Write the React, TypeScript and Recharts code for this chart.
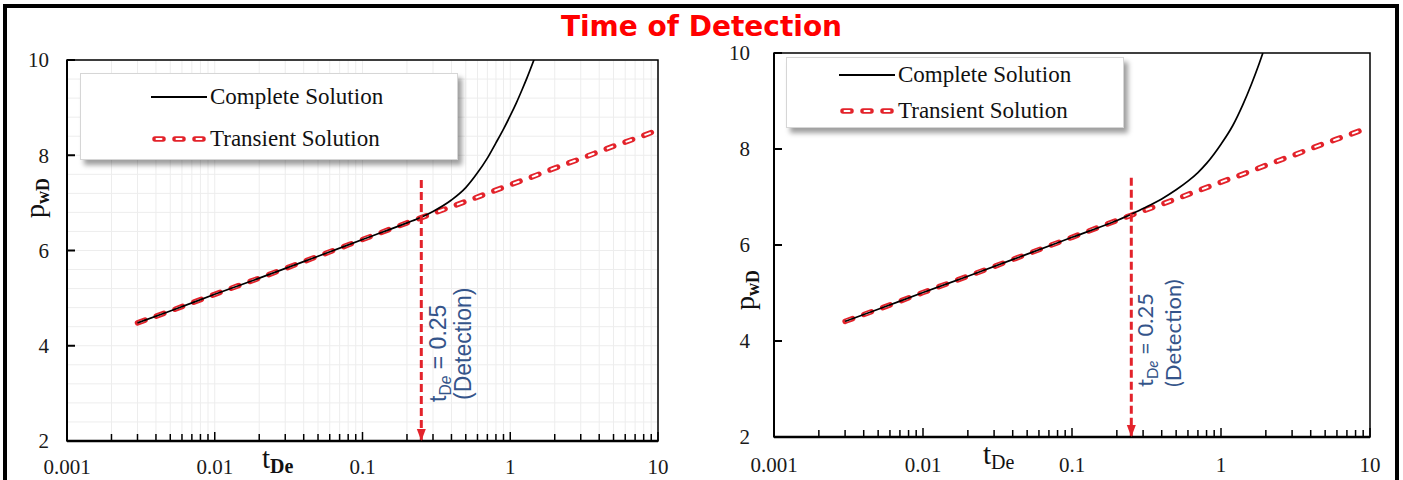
import React from 'react';
import { LineChart, Line, XAxis, YAxis, CartesianGrid, ReferenceArea, Legend } from 'recharts';

// log-axis ticks: decades get labels, the 2..9 steps are bare marks
const decadeTicks = [0.001, 0.01, 0.1, 1, 10];
const minorSteps = [1, 2, 3, 4, 5, 6, 7, 8, 9];
const xTicks = decadeTicks.flatMap((d, i) =>
  i === decadeTicks.length - 1 ? [d] : minorSteps.map((m) => Number((d * m).toPrecision(3)))
);
const yLabelTicks = [2, 4, 6, 8, 10];
const yTicks = Array.from({ length: 21 }, (_, i) => Math.round((2 + i * 0.4) * 10) / 10);

const seriesNames = ['Complete Solution', 'Transient Solution'];
const detectionTime = 0.25;

// left panel
const tTransientA = [0.003, 0.005, 0.01, 0.02, 0.05, 0.1, 0.2, 0.25, 0.3, 0.4, 0.5, 0.7, 1, 1.5, 2, 3, 5, 7, 10];
const pTransientA = [4.48, 4.73, 5.08, 5.42, 5.88, 6.23, 6.58, 6.69, 6.78, 6.92, 7.03, 7.2, 7.38, 7.58, 7.73, 7.93, 8.19, 8.35, 8.53];
const tCompleteA = [0.003, 0.005, 0.01, 0.02, 0.05, 0.1, 0.2, 0.25, 0.3, 0.4, 0.5, 0.6, 0.7, 0.8, 0.9, 1, 1.1, 1.2, 1.3, 1.47];
const pCompleteA = [4.48, 4.73, 5.08, 5.42, 5.88, 6.23, 6.58, 6.7, 6.82, 7.06, 7.32, 7.63, 7.94, 8.26, 8.55, 8.83, 9.1, 9.37, 9.63, 10.06];
const pDetectionA = [7.48, 2];

// right panel
const tTransientB = [0.003, 0.005, 0.01, 0.02, 0.05, 0.1, 0.2, 0.25, 0.3, 0.4, 0.5, 0.7, 1, 1.5, 2, 3, 5, 7, 10];
const pTransientB = [4.41, 4.66, 5.01, 5.35, 5.81, 6.16, 6.51, 6.62, 6.71, 6.85, 6.96, 7.13, 7.31, 7.51, 7.66, 7.86, 8.12, 8.28, 8.46];
const tCompleteB = [0.003, 0.005, 0.01, 0.02, 0.05, 0.1, 0.2, 0.25, 0.3, 0.4, 0.5, 0.6, 0.7, 0.8, 1, 1.2, 1.4, 1.6, 1.8, 1.91];
const pCompleteB = [4.41, 4.66, 5.01, 5.35, 5.81, 6.16, 6.51, 6.64, 6.76, 6.96, 7.15, 7.33, 7.51, 7.7, 8.1, 8.49, 8.92, 9.35, 9.77, 10.0];
const pDetectionB = [7.4, 2];

const RED = '#e3232b';
const NOTE_BLUE = '#34548a';
const SERIF = '"Liberation Serif", "Times New Roman", serif';

const zip = (t: number[], p: number[]) => t.map((v, i) => ({ t: v, p: p[i] }));

type PanelStyle = {
  width: number;
  margin: { top: number; right: number; bottom: number; left: number };
  grid: boolean;
  yGap: number;
  xLabelDy: number;
  legend: { left: number; top: number; w: number; h: number; iconX: number; rows: number[] };
  yTitle: { dx: number; dy: number };
  xTitle: { dx: number; bold: boolean };
  note: { font: string; size: number; dx1: number; dx2: number; up1: number; up2: number };
};

const HollowDash = ({ width }: { width: number }) => (
  <svg width={width} height={10} style={{ display: 'block' }}>
    <line x1={4} x2={width - 3} y1={5} y2={5} stroke={RED} strokeWidth={5.5} strokeLinecap="round" strokeDasharray="8 12" />
    <line x1={4} x2={width - 3} y1={5} y2={5} stroke="#fff" strokeWidth={2} strokeLinecap="round" strokeDasharray="5 15" strokeDashoffset={-1.5} />
  </svg>
);

const LegendBox = ({ cfg }: { cfg: PanelStyle['legend'] }) => (
  <div
    style={{
      position: 'relative',
      width: cfg.w,
      height: cfg.h,
      boxSizing: 'border-box',
      background: '#fff',
      border: '1px solid #d6d6d6',
      boxShadow: '4px 5px 5px rgba(0,0,0,0.38)',
      fontFamily: SERIF,
      fontSize: 23,
      color: '#111',
    }}
  >
    {seriesNames.map((name, i) => (
      <div
        key={name}
        style={{ position: 'absolute', left: cfg.iconX, top: cfg.rows[i] - 14, height: 28, display: 'flex', alignItems: 'center', whiteSpace: 'nowrap' }}
      >
        {i === 0 ? (
          <svg width={56} height={10} style={{ display: 'block' }}>
            <line x1={0} x2={56} y1={5} y2={5} stroke="#000" strokeWidth={1.8} />
          </svg>
        ) : (
          <HollowDash width={56} />
        )}
        <span style={{ marginLeft: 3 }}>{name}</span>
      </div>
    ))}
  </div>
);

function DetectionPanel({
  cfg,
  transient,
  complete,
  detection,
}: {
  cfg: PanelStyle;
  transient: { t: number; p: number }[];
  complete: { t: number; p: number }[];
  detection: { t: number; p: number }[];
}) {
  const xTick = (props: any) => {
    const { x, y, payload } = props;
    const v = payload.value;
    const major = decadeTicks.includes(v);
    return (
      <g>
        <line x1={x} x2={x} y1={y} y2={y - (major ? 9 : 7)} stroke="#000" strokeWidth={1.5} />
        {major && (
          <text x={x} y={y + cfg.xLabelDy} textAnchor="middle" fontFamily={SERIF} fontSize={21} fill="#1a1a1a">
            {String(v)}
          </text>
        )}
      </g>
    );
  };

  const yTick = (props: any) => {
    const { x, y, payload } = props;
    const v = payload.value;
    if (!yLabelTicks.includes(v)) return <g />;
    return (
      <g>
        <line x1={x} x2={x + 8} y1={y} y2={y} stroke="#000" strokeWidth={2} />
        <text x={x - cfg.yGap} y={y} dy="0.35em" textAnchor="end" fontFamily={SERIF} fontSize={21} fill="#1a1a1a">
          {v}
        </text>
      </g>
    );
  };

  // arrowhead at the axis plus the rotated note beside the marker
  const detectionDot = (props: any) => {
    const { cx, cy, index } = props;
    if (index !== 1) return <g key={`d${index}`} />;
    const n = cfg.note;
    return (
      <g key={`d${index}`}>
        <polygon points={`${cx},${cy} ${cx - 4.5},${cy - 12} ${cx + 4.5},${cy - 12}`} fill={RED} />
        <text
          transform={`translate(${cx + n.dx1}, ${cy - n.up1}) rotate(-90)`}
          fontFamily={n.font}
          fontSize={n.size}
          fill={NOTE_BLUE}
        >
          t
          <tspan dy={5} fontSize={n.size * 0.68}>
            D<tspan fontStyle="italic">e</tspan>
          </tspan>
          <tspan dy={-5}> = {detectionTime}</tspan>
        </text>
        <text
          transform={`translate(${cx + n.dx2}, ${cy - n.up2}) rotate(-90)`}
          fontFamily={n.font}
          fontSize={n.size}
          fill={NOTE_BLUE}
        >
          (Detection)
        </text>
      </g>
    );
  };

  const yTitle = (props: any) => {
    const vb = props.viewBox;
    const x = vb.x + cfg.yTitle.dx;
    const y = vb.y + cfg.yTitle.dy;
    return (
      <text transform={`translate(${x}, ${y}) rotate(-90)`} textAnchor="middle" fontFamily={SERIF} fill="#111">
        <tspan fontSize={28}>p</tspan>
        <tspan fontSize={18} fontWeight="bold" dy={5}>
          wD
        </tspan>
      </text>
    );
  };

  const xTitle = (props: any) => {
    const vb = props.viewBox;
    return (
      <text x={vb.x + cfg.xTitle.dx} y={vb.y + 27} fontFamily={SERIF} fill="#111">
        <tspan fontSize={29}>t</tspan>
        <tspan fontSize={20} fontWeight={cfg.xTitle.bold ? 'bold' : 'normal'} dy={5}>
          De
        </tspan>
      </text>
    );
  };

  return (
    <LineChart width={cfg.width} height={480} margin={cfg.margin}>
      {cfg.grid && <CartesianGrid stroke="#ededed" strokeWidth={1} />}
      <XAxis
        dataKey="t"
        type="number"
        scale="log"
        domain={[0.001, 10]}
        allowDataOverflow
        ticks={xTicks}
        interval={0}
        height={30}
        tickSize={0}
        tickMargin={0}
        tickLine={false}
        tick={xTick}
        axisLine={{ stroke: '#000', strokeWidth: 2.5 }}
        label={{ content: xTitle }}
      />
      <YAxis
        type="number"
        domain={[2, 10]}
        allowDataOverflow
        ticks={yTicks}
        interval={0}
        width={40}
        tickSize={0}
        tickMargin={0}
        tickLine={false}
        tick={yTick}
        axisLine={{ stroke: '#000', strokeWidth: 2 }}
        label={{ content: yTitle }}
      />
      <ReferenceArea x1={0.001} x2={10} y1={2} y2={10} fill="none" stroke="#000" strokeWidth={1.5} />
      <Legend
        verticalAlign="middle"
        align="center"
        layout="horizontal"
        wrapperStyle={{ left: cfg.legend.left, top: cfg.legend.top, width: cfg.legend.w, height: cfg.legend.h }}
        content={() => <LegendBox cfg={cfg.legend} />}
      />
      <Line
        data={transient}
        dataKey="p"
        type="monotone"
        stroke={RED}
        strokeWidth={5.5}
        strokeLinecap="round"
        strokeDasharray="8 12"
        dot={false}
        activeDot={false}
        isAnimationActive={false}
        legendType="none"
      />
      <Line
        data={transient}
        dataKey="p"
        type="monotone"
        stroke="#fff"
        strokeWidth={2}
        strokeLinecap="round"
        strokeDasharray="5 15"
        strokeDashoffset={-1.5}
        dot={false}
        activeDot={false}
        isAnimationActive={false}
        legendType="none"
      />
      <Line
        data={complete}
        dataKey="p"
        type="monotone"
        stroke="#000"
        strokeWidth={1.7}
        dot={false}
        activeDot={false}
        isAnimationActive={false}
        legendType="none"
      />
      <Line
        data={detection}
        dataKey="p"
        type="linear"
        stroke={RED}
        strokeWidth={3}
        strokeDasharray="8 4"
        dot={detectionDot}
        activeDot={false}
        isAnimationActive={false}
        legendType="none"
      />
    </LineChart>
  );
}

const leftPanel: PanelStyle = {
  width: 700,
  margin: { top: 60, right: 42, bottom: 9, left: 27 },
  grid: true,
  yGap: 18,
  xLabelDy: 33,
  legend: { left: 80, top: 73, w: 378, h: 87, iconX: 70, rows: [23, 65] },
  yTitle: { dx: 17, dy: 138 },
  xTitle: { dx: 195, bold: true },
  note: { font: '"Liberation Sans", Arial, sans-serif', size: 23, dx1: 25, dx2: 50, up1: 39, up2: 41 },
};

const rightPanel: PanelStyle = {
  width: 703,
  margin: { top: 53, right: 33, bottom: 13, left: 34 },
  grid: false,
  yGap: 24,
  xLabelDy: 35,
  legend: { left: 86, top: 57, w: 338, h: 71, iconX: 52, rows: [17, 53] },
  yTitle: { dx: 20, dy: 237 },
  xTitle: { dx: 209, bold: false },
  note: { font: 'Lato, "Open Sans", sans-serif', size: 22, dx1: 22, dx2: 50, up1: 50, up2: 50 },
};

export default function App() {
  return (
    <div style={{ position: 'fixed', left: 0, top: 0, width: 1403, height: 480, background: '#fff', overflow: 'hidden' }}>
      <div style={{ position: 'absolute', left: 0, top: 0 }}>
        <DetectionPanel
          cfg={leftPanel}
          transient={zip(tTransientA, pTransientA)}
          complete={zip(tCompleteA, pCompleteA)}
          detection={zip([detectionTime, detectionTime], pDetectionA)}
        />
      </div>
      <div style={{ position: 'absolute', left: 700, top: 0 }}>
        <DetectionPanel
          cfg={rightPanel}
          transient={zip(tTransientB, pTransientB)}
          complete={zip(tCompleteB, pCompleteB)}
          detection={zip([detectionTime, detectionTime], pDetectionB)}
        />
      </div>
      <div
        style={{
          position: 'absolute',
          left: 3,
          top: 4,
          width: 1396,
          height: 520,
          boxSizing: 'border-box',
          border: '4px solid #000',
          borderBottom: 'none',
          pointerEvents: 'none',
        }}
      />
      <div
        style={{
          position: 'absolute',
          left: 0,
          top: 9,
          width: 1403,
          textAlign: 'center',
          fontFamily: '"DejaVu Sans", Verdana, sans-serif',
          fontWeight: 'bold',
          fontSize: 28,
          color: '#ff0000',
          lineHeight: '36px',
        }}
      >
        Time of Detection
      </div>
    </div>
  );
}
